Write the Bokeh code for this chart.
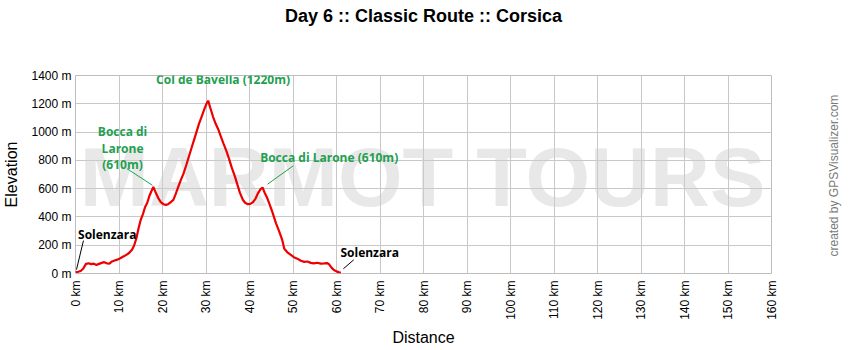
import math
from bokeh.plotting import figure
from bokeh.models import (Range1d, PrintfTickFormatter, Label, LinearAxis,
                          FixedTicker, Title)
from bokeh.core.properties import value
from bokeh.embed import file_html
from bokeh.resources import INLINE

# ---- data ----
distance_km = [0.0, 0.6, 1.2, 1.8, 2.4, 3.0, 3.6, 4.2, 4.8, 5.4,
               6.0, 6.6, 7.2, 7.8, 8.4, 9.0, 9.6, 10.3, 11.0, 11.6,
               12.3, 13.0, 13.5, 14.0, 14.5, 15.0, 15.5, 16.0, 16.5, 17.0,
               17.5, 17.9, 18.4, 19.0, 19.6, 20.2, 20.8, 21.3, 21.9, 22.5,
               23.0, 23.6, 24.2, 24.8, 25.4, 26.0, 26.6, 27.2, 27.8, 28.4,
               29.0, 29.6, 30.1, 30.5, 31.0, 31.6, 32.2, 32.8, 33.4, 34.0,
               34.7, 35.3, 35.9, 36.6, 37.2, 37.8, 38.5, 39.0, 39.6, 40.2,
               40.8, 41.4, 41.9, 42.5, 43.0, 43.5, 44.0, 44.6, 45.3, 46.1,
               46.8, 47.5, 48.0, 48.7, 49.5, 50.2, 51.0, 51.8, 52.6, 53.3,
               54.1, 54.8, 55.5, 56.4, 57.2, 57.8, 58.3, 58.9, 59.4, 60.0,
               60.6, 61.0]
elevation_m = [10, 12, 18, 35, 68, 72, 66, 70, 60, 68,
               75, 80, 72, 70, 85, 92, 98, 108, 120, 130,
               145, 168, 200, 250, 320, 380, 420, 470, 500, 550,
               585, 612, 575, 535, 505, 490, 485, 490, 505, 520,
               560, 610, 660, 705, 760, 820, 880, 940, 1000, 1060,
               1110, 1160, 1200, 1222, 1170, 1110, 1060, 1020, 970, 920,
               865, 810, 750, 690, 630, 570, 520, 500, 490, 492,
               505, 530, 565, 595, 608, 570, 540, 490, 430, 355,
               300, 240, 175, 150, 132, 115, 105, 90, 82, 85,
               75, 72, 76, 70, 72, 74, 65, 40, 25, 15,
               8, 5]
assert len(distance_km) == len(elevation_m)

x_ticks = list(range(0, 161, 10))
y_ticks = list(range(0, 1401, 200))

# waypoints (km, m, label lines)
wp_start = (0.0, 10, ["Solenzara"])
wp_larone1 = (17.9, 610, ["Bocca di", "Larone", "(610m)"])
wp_bavella = (30.5, 1220, ["Col de Bavella (1220m)"])
wp_larone2 = (43.0, 610, ["Bocca di Larone (610m)"])
wp_end = (61.0, 5, ["Solenzara"])

title = "Day 6 :: Classic Route :: Corsica"
credit = "created by GPSVisualizer.com"
watermark = "MARMOT TOURS"

# ---- figure ----
FRAME_L, FRAME_B = 75, 273
FRAME_W, FRAME_H = 700, 198
X0, X1, Y0, Y1 = 0, 160, 0, 1400
KPX = FRAME_W / (X1 - X0)
MPX = FRAME_H / (Y1 - Y0)


def off(x, y, dx, dy):
    """data point shifted by screen pixels (dy positive = down)."""
    return x + dx / KPX, y - dy / MPX


p = figure(width=850, height=350, output_backend="svg", toolbar_location=None,
           x_range=Range1d(X0, X1), y_range=Range1d(Y0, Y1),
           min_border_left=75, min_border_right=75,
           min_border_top=75, min_border_bottom=77)
p.background_fill_color = "white"
p.border_fill_color = "white"
p.outline_line_color = "#bdbdbd"

# real title is the outermost "above" item; a blank spacer title sits
# between it and the frame so the title ends up at the top of the canvas
p.title.text = title
p.title.align = "center"
p.title.text_font = "Liberation Sans"
p.title.text_font_style = "bold"
p.title.text_font_size = "18px"
p.title.text_color = "black"
p.title.standoff = 0
p.add_layout(Title(text=" ", text_font_size="18px", standoff=28), "above")

for ax in (p.xaxis, p.yaxis):
    ax.axis_line_color = None
    ax.major_tick_line_color = None
    ax.minor_tick_line_color = None
    ax.major_tick_out = 0
    ax.major_tick_in = 0
    ax.major_label_text_font = "Liberation Sans"
    ax.major_label_text_font_size = "12px"
    ax.major_label_text_color = "black"
    ax.axis_label_text_font = "Liberation Sans"
    ax.axis_label_text_font_size = "16px"
    ax.axis_label_text_font_style = "normal"
    ax.axis_label_text_color = "black"

p.xaxis.ticker = x_ticks
p.yaxis.ticker = y_ticks
p.xaxis.formatter = PrintfTickFormatter(format="%d km")
p.yaxis.formatter = PrintfTickFormatter(format="%d m")
p.xaxis.major_label_orientation = math.pi / 2
p.xaxis.major_label_standoff = 7
p.yaxis.major_label_standoff = 4
p.xaxis.axis_label = "Distance"
p.yaxis.axis_label = "Elevation"
p.xaxis.axis_label_standoff = 6
p.yaxis.axis_label_standoff = 8

p.grid.grid_line_color = "#c8c8c8"

# credit text, drawn as the only label of a bare right-hand axis
credit_at = (FRAME_B - 256) / MPX
cax = LinearAxis(ticker=FixedTicker(ticks=[credit_at]),
                 formatter=PrintfTickFormatter(format=credit),
                 axis_line_color=None, major_tick_line_color=None,
                 minor_tick_line_color=None, major_tick_out=0, major_tick_in=0,
                 major_label_orientation=math.pi / 2, major_label_standoff=62,
                 major_label_text_font="Liberation Sans",
                 major_label_text_font_size="12px",
                 major_label_text_color="#7a7a7a")
p.add_layout(cax, "right")

# watermark
wx, wy = off(X0, Y0, 424 - FRAME_L, -(FRAME_B - 177))
p.text(x=[wx], y=[wy], text=[watermark], text_font=value("Liberation Sans"),
       text_font_style="bold", text_font_size="83px", text_color="#cccccc",
       text_alpha=0.45, text_align="center", text_baseline="middle")

# profile
p.line(distance_km, elevation_m, line_color="#ee0000", line_width=2.2)

GREEN = "#22a04f"
FONT = "Open Sans"
LINE_H = 16.5


def leader(wp, a, b, color):
    x0, y0 = off(wp[0], wp[1], *a)
    x1, y1 = off(wp[0], wp[1], *b)
    p.segment(x0=[x0], y0=[y0], x1=[x1], y1=[y1], line_color=color, line_width=1)


def note(wp, d, color):
    lines = wp[2]
    n = len(lines)
    for i, t in enumerate(lines):
        dy = d[1] + (i - (n - 1) / 2) * LINE_H
        x, y = off(wp[0], wp[1], d[0], dy)
        p.add_layout(Label(x=x, y=y, text=t, text_font=FONT, text_font_style="bold",
                           text_font_size="12px", text_color=color, text_align="center",
                           text_baseline="middle"))


note(wp_bavella, (15, -21.5), GREEN)
note(wp_larone1, (-31, -39), GREEN)
leader(wp_larone1, (-26.5, -18.5), (-1, -2), GREEN)
note(wp_larone2, (67, -29.5), GREEN)
leader(wp_larone2, (31, -21.5), (5, -3), GREEN)
note(wp_start, (32, -38), "black")
leader(wp_start, (8, -31.5), (1, -2.5), "black")
note(wp_end, (29, -20.5), "black")
leader(wp_end, (13, -13), (2.5, -4), "black")

open("out.html", "w").write(file_html(p, INLINE))
